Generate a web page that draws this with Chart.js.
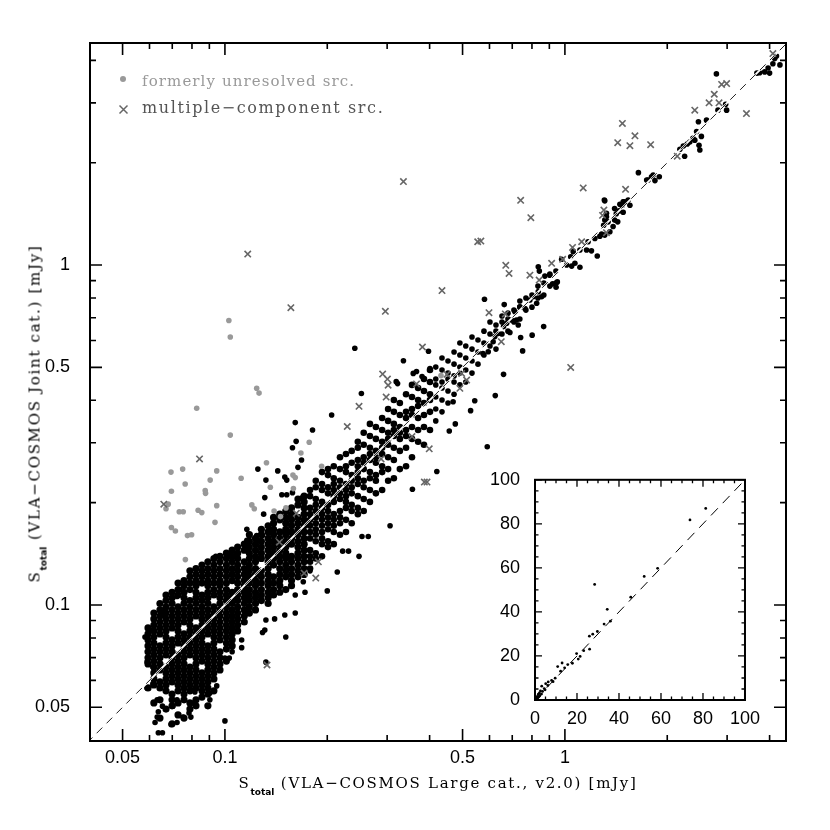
<!DOCTYPE html>
<html lang="en">
<head>
<meta charset="UTF-8">
<title>VLA-COSMOS total flux comparison</title>
<script src="https://cdn.jsdelivr.net/npm/chart.js"></script>
<style>
    body { margin: 0; background: #fff; }
    .wrap { position: relative; width: 830px; height: 830px; overflow: hidden; }
    #main { position: absolute; left: 0; top: 0; }
    #inset { position: absolute; left: 470px; top: 462px; }
    .lbl {
        position: absolute;
        font-family: 'DejaVu Serif', serif;
        color: #000;
        white-space: nowrap;
        line-height: 20px;
    }
    .lbl .sub {
        font-family: 'DejaVu Sans', sans-serif;
        font-weight: bold;
        font-size: 9px;
        letter-spacing: 0;
        vertical-align: -7px;
    }
    #xtitle { left: 90px; width: 696px; top: 773px; text-align: center; font-size: 15px; letter-spacing: 1.7px; }
    #ytitle { left: -161px; top: 399px; width: 400px; text-align: center; font-size: 15px; letter-spacing: 1.7px; transform: rotate(-90deg); }
    #leg1 { left: 142px; top: 71px; font-size: 15px; letter-spacing: 1.1px; color: #999; }
    #leg2 { left: 142px; top: 98px; font-size: 16px; letter-spacing: 1.6px; color: #555; }
    .dot { position: absolute; left: 120px; top: 76px; width: 6px; height: 6px; border-radius: 50%; background: #999; }
    .cross { position: absolute; left: 118px; top: 104px; }
</style>
</head>
<body>
<div class="wrap">
    <canvas id="main" width="830" height="830"></canvas>
    <canvas id="inset" width="290" height="274"></canvas>
    <div class="dot"></div>
    <div class="lbl" id="leg1">formerly unresolved src.</div>
    <svg class="cross" width="11" height="11"><path d="M1.5 1.5L9.5 9.5M9.5 1.5L1.5 9.5" stroke="#666" stroke-width="1.5"/></svg>
    <div class="lbl" id="leg2">multiple&minus;component src.</div>
    <div class="lbl" id="xtitle">S<span class="sub">total</span> (VLA&minus;COSMOS Large cat., v2.0) [mJy]</div>
    <div class="lbl" id="ytitle">S<span class="sub">total</span> (VLA&minus;COSMOS Joint cat.) [mJy]</div>
</div>
<script>
    // axis limits in mJy
    const xMin = 0.0401, xMax = 4.47;
    const yMin = 0.0398, yMax = 4.5;
    const labelTicks = [0.05, 0.1, 0.5, 1];
    const minorTicks = [0.06, 0.07, 0.08, 0.09, 0.2, 0.3, 0.4, 0.6, 0.7, 0.8, 0.9, 2, 3, 4];
    const oneToOne = [0.03, 5];

    // inset (linear, mJy)
    const insetRange = [0, 100];
    const insetMajor = [0, 20, 40, 60, 80, 100];
    const insetMinor = [5, 10, 15, 25, 30, 35, 45, 50, 55, 65, 70, 75, 85, 90, 95];

    // dense part of the cloud: Large-cat. flux per column and the Joint-cat. fluxes found there
    const colX = [.0594,.0618,.0644,.0671,.0699,.0728,.0758,.0789,.0822,.0856,.0891,.0928,.0967,.101,.105,.109,.114,.118,.123,.128,.134,.139,.145,.151,.157,.164,.171,
        .178,.185,.193,.201,.209,.218,.227,.236,.246,.256,.267,.278,.29,.302,.314,.327,.341,.355,.37,.385,.401,.417,.435,.453,.472,.491,
        .511,.533,.555,.578,.602,.627,.653,.68,.708,.737,.768,.8,.833,.867,.903,.941];
    const colY = [
        [.057,.0671,.0699,.0728,.0758,.0789,.0822,.0856],
        [.0515,.0582,.0606,.0631,.0657,.0684,.0713,.0742,.0773,.0805,.0839,.0873,.091,.0947],
        [.0465,.0526,.057,.0594,.0644,.0671,.0699,.0728,.0758,.0822,.0856,.0891,.0928,.0967,.101],
        [.0494,.0559,.0582,.0606,.0631,.0657,.0713,.0742,.0773,.0805,.0839,.0873,.091,.0947,.0987,.103,.107],
        [.0447,.0505,.0526,.0547,.0594,.0618,.0644,.0671,.0699,.0728,.0758,.0789,.0856,.0891,.0928,.0967,.101,.105,.109],
        [.0475,.0515,.0559,.0582,.0606,.0631,.0657,.0684,.0713,.0773,.0805,.0839,.0873,.091,.0947,.0987,.107,.111,.116],
        [.0465,.0526,.0547,.057,.0594,.0618,.0644,.0671,.0699,.0728,.0758,.0789,.0822,.0891,.0928,.0967,.101,.105,.109,.114,.118],
        [.0494,.0515,.0559,.0582,.0606,.0631,.0657,.0713,.0742,.0773,.0805,.0839,.0873,.091,.0947,.0987,.103,.111,.116,.121,.126],
        [.0505,.0526,.057,.0594,.0618,.0644,.0671,.0699,.0728,.0758,.0789,.0822,.0856,.0928,.0967,.101,.105,.109,.114,.118,.123,.128],
        [.0536,.0559,.0582,.0606,.0631,.0684,.0713,.0742,.0773,.0805,.0839,.0873,.091,.0947,.0987,.103,.107,.116,.121,.126,.131],
        [.0505,.0547,.057,.0594,.0618,.0644,.0671,.0699,.0728,.0758,.0822,.0856,.0891,.0928,.0967,.101,.105,.109,.114,.118,.123,.128,.134],
        [.0559,.0606,.0631,.0657,.0684,.0713,.0742,.0773,.0805,.0839,.0873,.091,.0947,.0987,.107,.111,.116,.121,.126,.131,.137],
        [.0644,.0671,.0699,.0728,.0789,.0822,.0856,.0891,.0928,.0967,.101,.105,.109,.114,.118,.123,.128,.134,.139],
        [.0684,.0742,.0773,.0805,.0839,.0873,.091,.0947,.0987,.103,.107,.111,.116,.121,.126,.131,.137,.142],
        [.0758,.0789,.0822,.0856,.0891,.0928,.0967,.101,.105,.109,.118,.123,.128,.134,.139,.145],
        [.0839,.0873,.091,.0947,.0987,.103,.107,.111,.116,.121,.126,.131,.137,.142,.148],
        [.0891,.0928,.0967,.101,.105,.109,.114,.118,.123,.128,.134,.145,.151],
        [.0947,.0987,.103,.107,.111,.116,.121,.126,.131,.137,.142,.148,.154,.161],
        [.0967,.101,.105,.109,.114,.118,.123,.128,.134,.139,.145,.151,.157],
        [.103,.107,.111,.116,.121,.126,.137,.142,.148,.154,.161,.167],
        [.101,.105,.109,.114,.118,.123,.128,.134,.139,.145,.151,.157,.164,.171],
        [.107,.111,.116,.121,.131,.137,.142,.148,.154,.161,.167,.174,.181],
        [.109,.114,.118,.123,.128,.134,.139,.145,.151,.157,.164,.178,.185],
        [.111,.121,.126,.131,.137,.142,.148,.154,.161,.167,.174,.181,.189],
        [.114,.118,.123,.128,.134,.139,.151,.157,.164,.171,.178,.185,.193],
        [.121,.126,.131,.137,.142,.148,.154,.161,.167,.174,.181,.197,.205],
        [.123,.128,.134,.139,.145,.151,.157,.164,.171,.178,.185,.193,.201,.209],
        [.128,.134,.139,.145,.157,.164,.171,.178,.185,.193,.209,.218],
        [.137,.142,.154,.161,.167,.174,.181,.189,.197,.205,.222,.232],
        [.139,.151,.157,.164,.171,.178,.185,.193,.201,.218,.227,.246],
        [.148,.154,.167,.174,.181,.189,.197,.213,.222,.241,.251],
        [.151,.164,.171,.178,.185,.201,.209,.218,.227,.236,.256],
        [.161,.174,.181,.189,.205,.213,.222,.232,.251,.272],
        [.164,.178,.193,.201,.209,.218,.227,.246,.256,.278],
        [.174,.189,.197,.213,.222,.232,.241,.262,.284],
        [.185,.193,.209,.227,.236,.246,.256,.267,.29,.302],
        [.189,.205,.222,.232,.251,.262,.272,.296,.321],
        [.201,.218,.236,.246,.267,.278,.29,.314,.341],
        [.213,.232,.241,.262,.272,.284,.308,.334],
        [.218,.246,.256,.278,.29,.302,.327,.355],
        [.232,.251,.272,.296,.308,.321,.348,.377],
        [.236,.267,.29,.314,.327,.341,.37,.401],
        [.251,.284,.308,.321,.334,.362,.393],
        [.256,.29,.314,.327,.355,.37,.417],
        [.272,.308,.334,.362,.377,.409,.444],
        [.302,.327,.355,.385,.401,.435],
        [.296,.334,.362,.393,.426,.462],
        [.327,.37,.401,.417,.453,.491],
        [.348,.377,.409,.444,.462,.501],
        [.37,.401,.435,.453,.491,.533],
        [.393,.426,.462,.481,.522],
        [.417,.453,.472,.511,.555],
        [.444,.481,.501,.544,.59],
        [.453,.491,.533,.578],
        [.481,.522,.566,.614],
        [.511,.555,.602],
        [.544,.59,.639],
        [.578,.627,.68],
        [.566,.639,.666],
        [.627,.68,.708],
        [.639,.694,.722],
        [.68,.737],
        [.694,.752,.784],
        [.737,.8],
        [.752,.816],
        [.8,.867],
        [.816,.885],
        [.867,.941],
        [.885,.96]
    ];
    // the first columns make up the solid core, the next ones the busy band above it
    const coreCols = 27, bandCols = 48;

    // single sources outside the dense core [Large, Joint]
    const blackPts = [
        [.835,.989],[.841,.96],[.873,.928],[.903,.934],[.92,.88],[.942,.86],[.95,.892],[.978,1.04],[1.012,1.0],[1.047,.993],[1.07,1.012],[1.107,.985],
        [1.04,1.058],[1.058,1.095],[1.107,1.107],[1.158,1.107],[1.17,1.171],[1.225,1.197],[1.267,1.216],[1.282,1.233],[1.31,1.225],[1.356,1.253],
        [1.386,1.298],[1.40,1.356],[1.416,1.416],[1.443,1.443],[1.476,1.50],[1.518,1.535],[1.535,1.553],[1.31,1.356],[1.325,1.386],[1.43,1.34],
        [1.31,1.545],[1.49,1.535],[1.245,1.063],[1.197,1.101],
        [1.306,1.553],[1.451,1.51],[1.467,1.50],[1.484,1.535],[1.553,1.50],[1.484,1.43],[1.325,1.42],[1.40,1.467],[1.34,1.34],[1.30,1.31],
        [1.645,1.87],[1.74,1.778],[1.757,1.778],[1.798,1.818],[1.818,1.84],[1.84,1.772],[1.895,1.818],
        [2.179,2.19],[2.23,2.24],[2.25,2.09],[2.29,2.27],[2.33,2.3],[2.38,2.36],[2.44,2.47],[2.47,2.64],[2.48,2.25],[2.494,2.179],[2.52,2.39],
        [2.41,2.33],[2.61,2.668],[2.79,3.65],[2.82,2.855],[2.99,2.855],[2.97,2.97],
        [3.67,3.67],[3.74,3.68],[3.87,3.70],[3.96,3.80],[4.0,3.67],[4.09,3.91],[4.14,4.05],[4.19,4.12],[4.29,3.88],
        [.574,.549],[.595,.556],[.615,.595],[.622,.616],[.637,.629],[.66,.659],[.674,.674],[.697,.689],[.713,.729],[.737,.754],[.763,.745],
        [.789,.789],[.807,.807],[.835,.835],[.854,.807],[.826,.772],[.729,.666],[.72,.689],[.689,.633],
        [.866,.659],[.801,.622],[.741,.612],[.751,.559],[.58,.793],[.663,.765],[.66,.477],[.624,.413],[.543,.399],[.528,.373],[.469,.396],
        [.476,.341],[.457,.325],[.591,.292],
        [.241,.569],[.335,.523],[.252,.419],[.397,.558],[.319,.454],[.322,.448],[.358,.48],[.366,.486],[.38,.47],[.401,.496],
        [.206,.362],[.161,.344],[.181,.327],[.162,.303],[.158,.29],[.125,.251],[.143,.248],[.132,.233],[.131,.207],[.13,.185],[.152,.233],
        [.15,.238],[.164,.254],[.168,.267],[.152,.211],[.147,.211],[.158,.214],[.169,.207],[.116,.167],[.116,.155],[.124,.16],[.135,.166],
        [.108,.14],[.094,.139],[.104,.142],[.116,.147],[.125,.155],[.129,.16],
        [.306,.171],[.42,.247],[.356,.219],[.253,.159],[.264,.159],[.222,.144],[.231,.144],[.248,.139],[.214,.125],[.2,.11],
        [.1,.0698],[.103,.0698],[.112,.0749],[.112,.0789],[.105,.0729],[.129,.083],[.131,.0844],[.132,.0903],[.14,.091],[.151,.0805],
        [.15,.0934],[.161,.0947],[.172,.109],[.161,.107],[.17,.117],[.17,.125],[.178,.126],[.132,.0679],[.1,.0456],
        [.0623,.0451],[.0637,.0421],[.0655,.0421],[.0694,.0445],[.0723,.0451],[.0753,.0468],[.0784,.0481],[.0794,.0468],[.0703,.0504],
        [.0723,.0526],[.0805,.0515],[.0903,.0526],[.0903,.0551],[.0946,.0578],[.0856,.0537],[.0816,.0555],[.08,.0562],[.059,.057],
        [.0614,.0586],[.0632,.0526],[.0637,.0485],[.0632,.0468],[.0655,.0504],
        [.0582,.0805],[.0602,.0844],[.059,.068],[.0614,.0657],[.0655,.0966],[.066,.0934],[.0723,.106],[.0737,.111]
    ];

    // formerly unresolved sources (grey dots)
    const greyPts = [
        [.124,.434],[.126,.42],[.0826,.379],[.1037,.316],[.0694,.246],[.0751,.251],[.0946,.248],[.0764,.227],[.0905,.233],[.1116,.236],
        [.0696,.216],[.0875,.217],[.0877,.213],[.0681,.198],[.0671,.192],[.0946,.196],[.0734,.188],[.0754,.188],[.0834,.19],[.0855,.187],
        [.0935,.175],[.0696,.169],[.0715,.165],[.0776,.16],[.0798,.161],[.0765,.136],[.12,.197],[.122,.192],[.1325,.262],[.136,.222],
        [.1395,.189],[.159,.22],[.1673,.28],[.161,.237],[.1585,.241],[.177,.301],[.1512,.193],[.1925,.256],[.1457,.182],[.1027,.687],
        [.1037,.614],[.432,.473]
    ];

    // multiple-component sources (crosses)
    const crossPts = [
        [.335,1.76],[.1167,1.077],[.1563,.749],[.435,.841],[.2964,.731],[.554,1.171],[.381,.574],[.291,.478],[.3006,.462],[.302,.443],
        [.298,.409],[.366,.447],[.45,.477],[.491,.434],[.497,.48],[.514,.459],[.0842,.269],[.0661,.198],[.1447,.153],[.248,.384],
        [.229,.335],[.355,.313],[.399,.288],[.288,.269],[.386,.23],[.393,.23],[.1622,.186],[.1883,.134],[.171,.124],[.185,.12],
        [.67,.998],[.685,.945],[.789,.934],[.84,.903],[.914,1.012],[.598,.724],[.668,.718],[.65,.595],[1.132,1.686],[1.508,1.67],
        [.741,1.55],[.794,1.378],[.566,1.176],[.985,1.04],[1.053,1.127],[1.12,1.171],[1.302,1.451],[1.29,1.40],[1.325,1.245],
        [1.476,2.61],[1.43,2.29],[1.553,2.244],[1.607,2.40],[1.787,2.26],[2.41,2.855],[2.655,3.0],[2.75,3.18],[2.84,3.0],[2.89,3.40],
        [2.99,3.42],[3.42,2.79],[4.09,4.19],[2.14,2.09],[1.04,.50],[.133,.0666]
    ];

    // inset: full flux range, linear
    const insetPts = [
        [81.3,87],[73.8,81.8],[58.4,59.8],[52,56.1],[45.6,46.7],[28.4,52.5],[34.4,41.2],[32.9,34.5],[29.7,31.1],[27.5,29.9],[25.9,29],
        [26,23.1],[19.8,21.1],[20.6,18.6],[21.5,19.8],[15.6,16.1],[12.9,16.8],[10.8,15.2],[12.2,13.1],[17.8,16.7],[7.9,8.9],[6.3,8.2],
        [5.1,7.4],[3.2,6.3],[4.4,5.2],[2.6,4.1],[1.6,2.6],[2.1,3.2],[1.1,1.6],[3.6,3.9],[6.1,6.6],[8.6,8.3],[9.6,9.9],[0.8,1.1],[1.3,0.9],
        [0.5,0.6],[2.3,1.9],[14.1,14.6],[23.2,22.4],[35.9,35.8],[0.3,0.4],[0.6,1.2],[1.8,1.4],[0.9,0.5],[4.8,4.6],[3.1,2.7]
    ];

    const toXY = ([x, y]) => ({ x, y });
    const columnPoints = (from, to) =>
        colX.slice(from, to).flatMap((x, i) => colY[from + i].map(y => ({ x, y })));
    const corePoints = columnPoints(0, coreCols);
    const bandPoints = columnPoints(coreCols, bandCols);
    const restPoints = columnPoints(bandCols, colX.length).concat(blackPts.map(toXY));

    // box frame with inward ticks on all four sides
    const frameTicks = {
        id: 'frameTicks',
        beforeDatasetsDraw(chart, args, o) {
            if (!o.fill) return;
            const a = chart.chartArea;
            chart.ctx.save();
            chart.ctx.fillStyle = o.fill;
            chart.ctx.fillRect(a.left, a.top, a.right - a.left, a.bottom - a.top);
            chart.ctx.restore();
        },
        afterDraw(chart, args, o) {
            const { ctx, chartArea: a, scales } = chart;
            ctx.save();
            ctx.strokeStyle = '#000';
            ctx.lineWidth = o.tickWidth;
            ctx.beginPath();
            const mark = (vals, len) => {
                vals.forEach(v => {
                    const px = scales.x.getPixelForValue(v);
                    ctx.moveTo(px, a.bottom); ctx.lineTo(px, a.bottom - len);
                    ctx.moveTo(px, a.top); ctx.lineTo(px, a.top + len);
                    const py = scales.y.getPixelForValue(v);
                    ctx.moveTo(a.left, py); ctx.lineTo(a.left + len, py);
                    ctx.moveTo(a.right, py); ctx.lineTo(a.right - len, py);
                });
            };
            mark(o.major, o.majorLen);
            mark(o.minor, o.minorLen);
            ctx.stroke();
            ctx.lineWidth = o.frameWidth;
            ctx.strokeRect(a.left, a.top, a.right - a.left, a.bottom - a.top);
            ctx.restore();
        }
    };

    const tickFont = { family: "'Liberation Sans', Arial, sans-serif", size: 18 };
    const dots = (data, r, color, order) => ({ data, pointRadius: r, backgroundColor: color, borderWidth: 0, order });

    new Chart(document.getElementById('main'), {
        type: 'scatter',
        data: {
            datasets: [
                { label: 'multiple-component src.', data: crossPts.map(toXY), pointStyle: 'crossRot', pointRadius: 4.5,
                  borderColor: '#666', backgroundColor: '#666', borderWidth: 1.6, order: 0 },
                { type: 'line', data: oneToOne.map(v => ({ x: v, y: v })), borderColor: '#222', borderWidth: 1,
                  borderDash: [8, 6], pointRadius: 0, order: 1 },
                { type: 'line', data: oneToOne.map(v => ({ x: v, y: v })), borderColor: '#fff', borderWidth: 1.8,
                  pointRadius: 0, order: 2 },
                dots(greyPts.map(toXY), 2.8, '#999', 3),
                dots(restPoints, 2.8, '#000', 4),
                dots(bandPoints, 3.3, '#000', 5),
                dots(corePoints, 3.6, '#000', 6)
            ]
        },
        options: {
            responsive: false,
            animation: false,
            devicePixelRatio: 1,
            events: [],
            layout: { padding: { left: 0, top: 43, right: 44, bottom: 0 } },
            plugins: {
                legend: { display: false },
                tooltip: { enabled: false },
                frameTicks: { major: labelTicks, minor: minorTicks, majorLen: 12, minorLen: 6, tickWidth: 1.6, frameWidth: 2 }
            },
            scales: {
                x: {
                    type: 'logarithmic', min: xMin, max: xMax,
                    grid: { display: false }, border: { display: false },
                    afterFit: s => { s.height = 89; },
                    afterBuildTicks: s => { s.ticks = labelTicks.map(v => ({ value: v })); },
                    ticks: { autoSkip: false, maxRotation: 0, padding: -2, color: '#000', font: tickFont, callback: v => String(v) }
                },
                y: {
                    type: 'logarithmic', min: yMin, max: yMax,
                    grid: { display: false }, border: { display: false },
                    afterFit: s => { s.width = 90; },
                    afterBuildTicks: s => { s.ticks = labelTicks.map(v => ({ value: v })); },
                    ticks: { autoSkip: false, padding: 12, color: '#000', font: tickFont, callback: v => String(v) }
                }
            }
        },
        plugins: [frameTicks]
    });

    new Chart(document.getElementById('inset'), {
        type: 'scatter',
        data: {
            datasets: [
                { type: 'line', data: insetRange.map(v => ({ x: v, y: v })), borderColor: '#000', borderWidth: 1,
                  borderDash: [10, 7], pointRadius: 0, order: 1 },
                dots(insetPts.map(toXY), 1.4, '#000', 0)
            ]
        },
        options: {
            responsive: false,
            animation: false,
            devicePixelRatio: 1,
            events: [],
            layout: { padding: { left: 0, top: 14, right: 14, bottom: 0 } },
            plugins: {
                legend: { display: false },
                tooltip: { enabled: false },
                frameTicks: { fill: '#fff', major: insetMajor, minor: insetMinor, majorLen: 7, minorLen: 3.5, tickWidth: 1.3, frameWidth: 2 }
            },
            scales: {
                x: {
                    type: 'linear', min: insetRange[0], max: insetRange[1],
                    grid: { display: false }, border: { display: false },
                    afterFit: s => { s.height = 36; },
                    ticks: { stepSize: 20, maxRotation: 0, padding: 0, color: '#000', font: tickFont }
                },
                y: {
                    type: 'linear', min: insetRange[0], max: insetRange[1],
                    grid: { display: false }, border: { display: false },
                    afterFit: s => { s.width = 65; },
                    ticks: { stepSize: 20, padding: 7, color: '#000', font: tickFont }
                }
            }
        },
        plugins: [frameTicks]
    });
</script>
</body>
</html>
